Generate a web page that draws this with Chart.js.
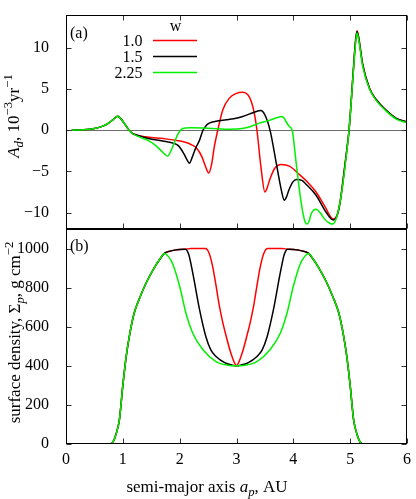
<!DOCTYPE html>
<html><head><meta charset="utf-8">
<script src="https://cdn.jsdelivr.net/npm/chart.js@4.4.1/dist/chart.umd.min.js"></script>
<style>
html,body{margin:0;padding:0;background:#fff;}
#wrap{position:relative;width:416px;height:499px;overflow:hidden;background:#fff;}
canvas{position:absolute;left:0;}
</style></head><body>
<div id="wrap">
<canvas id="ca" width="416" height="230" style="top:0px"></canvas>
<canvas id="cb" width="416" height="270" style="top:229px"></canvas>
</div>
<script>
const FONT = '"Liberation Serif", "Times New Roman", serif';

// ---- ticks / categories ----
const xTicks = [0, 1, 2, 3, 4, 5, 6];
const adTicks = [-10, -5, 0, 5, 10];
const sigmaTicks = [0, 200, 400, 600, 800, 1000];
const widthLabels = ['1.0', '1.5', '2.25'];
const seriesColors = ['#ff0000', '#000000', '#00f000'];

// ---- panel (a): A_d, 10^-3 yr^-1 ----
const adX_w10 = [0.1,0.3,0.5,0.65,0.75,0.83,0.91,0.97,1.04,1.1,1.16,1.25,1.4,1.6,1.75,1.95,2.1,2.22,2.3,2.39,2.46,2.51,2.56,2.61,2.67,2.76,2.875,2.99,3.11,3.2,3.26,3.31,3.36,3.43,3.5,3.54,3.58,3.67,3.79,3.93,4.11,4.25,4.4,4.55,4.7,4.77,4.82,4.87,4.93,4.98,5.05,5.09,5.12,5.15,5.22,5.34,5.46,5.63,5.81,6.0];
const adY_w10 = [0,0.06,0.22,0.5,0.86,1.3,1.7,1.35,0.7,0.1,-0.35,-0.6,-0.8,-0.95,-1.05,-1.25,-1.45,-1.8,-2.2,-3.2,-4.5,-5.2,-4.2,-2.0,0,2.5,3.9,4.45,4.6,4.3,3.5,2.2,0,-4.45,-7.5,-7.0,-6.1,-4.65,-4.16,-4.37,-5.4,-6.3,-7.5,-9.2,-10.8,-10.3,-8.8,-6.3,-3.0,0,6.7,10.5,12.1,11.3,8.0,5.1,3.7,2.45,1.45,1.0];

const adX_w15 = [0.1,0.3,0.5,0.65,0.75,0.83,0.91,0.97,1.04,1.1,1.16,1.25,1.45,1.7,1.9,1.98,2.07,2.13,2.17,2.22,2.28,2.35,2.41,2.47,2.52,2.64,2.82,2.95,3.11,3.3,3.43,3.49,3.55,3.6,3.7,3.79,3.84,3.88,3.92,3.99,4.06,4.15,4.23,4.4,4.58,4.7,4.77,4.82,4.87,4.93,4.98,5.05,5.09,5.12,5.15,5.22,5.34,5.46,5.63,5.81,6.0];
const adY_w15 = [0,0.06,0.22,0.5,0.86,1.3,1.7,1.35,0.7,0.1,-0.35,-0.6,-1.0,-1.3,-1.6,-1.9,-2.8,-3.6,-4.0,-3.3,-2.2,-1.2,0,0.6,0.86,1.1,1.27,1.4,1.67,2.15,2.4,2.0,1.0,-0.3,-4.0,-7.3,-8.5,-8.1,-7.3,-6.3,-6.0,-6.1,-6.6,-7.9,-10.0,-10.9,-10.4,-8.9,-6.4,-3.0,0,6.7,10.5,12.0,11.2,8.0,5.1,3.7,2.45,1.45,1.0];

const adX_w225 = [0.1,0.3,0.5,0.65,0.75,0.83,0.91,0.97,1.04,1.1,1.16,1.28,1.45,1.57,1.69,1.75,1.79,1.84,1.89,1.96,2.03,2.1,2.2,2.5,2.9,3.1,3.25,3.4,3.58,3.72,3.79,3.84,3.87,3.93,3.98,4.05,4.14,4.2,4.24,4.28,4.31,4.36,4.4,4.47,4.55,4.64,4.69,4.74,4.8,4.87,4.93,4.98,5.05,5.09,5.12,5.15,5.22,5.34,5.46,5.63,5.81,6.0];
const adY_w225 = [0,0.06,0.22,0.5,0.86,1.3,1.7,1.35,0.7,0.1,-0.37,-0.78,-1.27,-1.8,-2.6,-3.0,-3.14,-2.6,-1.8,-0.6,0.1,0.28,0.3,0.25,0.12,0.2,0.45,0.86,1.2,1.55,1.67,1.45,1.06,0.45,0,-4.0,-8.9,-11.0,-11.4,-11.0,-10.2,-9.7,-9.6,-10.0,-10.8,-11.3,-11.4,-11.0,-9.5,-6.6,-3.2,0,6.5,10.2,11.8,11.0,7.8,5.0,3.6,2.35,1.35,0.92];

// ---- panel (b): surface density, g cm^-2 ----
const sdX_w10 = [0,0.75,0.82,0.88,0.94,1.0,1.06,1.12,1.2,1.3,1.42,1.55,1.65,1.73,1.85,2.0,2.1,2.2,2.45,2.52,2.58,2.64,2.7,2.76,2.82,2.88,2.93,2.97,3.0,3.03,3.07,3.12,3.18,3.24,3.3,3.36,3.42,3.48,3.55,3.8,3.9,4.0,4.15,4.27,4.35,4.45,4.58,4.7,4.8,4.88,4.94,5.0,5.06,5.12,5.18,5.25,6];
const sdY_w10 = [0,0,8,50,125,300,450,560,670,750,830,900,945,975,988,995,997,1000,1000,975,909,810,704,620,550,485,440,412,400,412,440,485,550,620,704,810,909,975,1000,1000,997,995,988,975,945,900,830,750,670,560,450,300,125,50,8,0,0];

const sdX_w15 = [0,0.75,0.82,0.88,0.94,1.0,1.06,1.12,1.2,1.3,1.42,1.55,1.65,1.73,1.85,2.0,2.1,2.16,2.23,2.35,2.46,2.55,2.64,2.8,2.93,3.0,3.07,3.2,3.36,3.45,3.54,3.65,3.77,3.84,3.9,4.0,4.15,4.27,4.35,4.45,4.58,4.7,4.8,4.88,4.94,5.0,5.06,5.12,5.18,5.25,6];
const sdY_w15 = [0,0,8,50,125,300,450,560,670,750,830,900,945,975,988,995,997,970,875,687,550,480,448,415,403,400,403,415,448,480,550,687,875,970,997,995,988,975,945,900,830,750,670,560,450,300,125,50,8,0,0];

const sdX_w225 = [0,0.75,0.82,0.88,0.94,1.0,1.06,1.12,1.2,1.3,1.42,1.55,1.65,1.73,1.8,1.88,2.0,2.11,2.23,2.41,2.64,2.85,3.0,3.15,3.36,3.59,3.77,3.89,4.0,4.12,4.2,4.27,4.35,4.45,4.58,4.7,4.8,4.88,4.94,5.0,5.06,5.12,5.18,5.25,6];
const sdY_w225 = [0,0,8,50,125,300,450,560,670,750,830,900,945,975,960,920,807,670,567,482,422,403,400,403,422,482,567,670,807,920,960,975,945,900,830,750,670,560,450,300,125,50,8,0,0];

function pts(xs, ys){ return xs.map((x,i)=>({x:x, y:ys[i]})); }

function ds(xs, ys, idx){
  return { label: widthLabels[idx], data: pts(xs, ys), borderColor: seriesColors[idx],
    borderWidth: 1.5, pointRadius: 0, fill: false, cubicInterpolationMode: 'monotone' };
}

function drawRich(ctx, segs, x, y, size, align){
  const parts = segs.map(s=>{
    const fs = s.s ? size*0.75 : size;
    const f = (s.i ? 'italic ' : '') + fs + 'px ' + FONT;
    ctx.font = f;
    return {t:s.t, f:f, w:ctx.measureText(s.t).width, dy: s.s==='sub' ? size*0.25 : (s.s==='sup' ? -size*0.42 : 0)};
  });
  const total = parts.reduce((a,p)=>a+p.w, 0);
  let cx = align==='center' ? x-total/2 : (align==='right' ? x-total : x);
  ctx.textBaseline = 'alphabetic'; ctx.textAlign = 'left'; ctx.fillStyle = '#000';
  parts.forEach(p=>{ ctx.font = p.f; ctx.fillText(p.t, cx, y+p.dy); cx += p.w; });
}

function framePlugin(cfg){
  return {
    id: 'frame_' + cfg.name,
    beforeDatasetsDraw(chart){
      if (!cfg.zeroLine) return;
      const ctx = chart.ctx, a = chart.chartArea, ys = chart.scales.y;
      const py = Math.round(ys.getPixelForValue(0)) + 0.5;
      ctx.save(); ctx.strokeStyle = '#6e6e6e'; ctx.lineWidth = 1;
      ctx.beginPath(); ctx.moveTo(a.left, py); ctx.lineTo(a.right, py); ctx.stroke(); ctx.restore();
    },
    afterDraw(chart){
      const ctx = chart.ctx, a = chart.chartArea, xs = chart.scales.x, ys = chart.scales.y;
      const L = Math.round(a.left)+0.5, R = Math.round(a.right)-0.5, T = Math.round(a.top)+0.5, B = Math.round(a.bottom)-0.5;
      ctx.save();
      ctx.strokeStyle = '#333'; ctx.lineWidth = 1;
      ctx.beginPath();
      cfg.yTicks.forEach(v=>{
        const py = Math.round(ys.getPixelForValue(v)) + 0.5;
        ctx.moveTo(L, py); ctx.lineTo(L+5, py);
        ctx.moveTo(R, py); ctx.lineTo(R-5, py);
      });
      xTicks.forEach(v=>{
        const px = Math.round(xs.getPixelForValue(v)) + 0.5;
        ctx.moveTo(px, B); ctx.lineTo(px, B-5);
        if (cfg.topTicks){ ctx.moveTo(px, T); ctx.lineTo(px, T+5); }
      });
      ctx.stroke();
      ctx.strokeStyle = '#000';
      ctx.strokeRect(L, T, R-L, B-T);
      ctx.restore();

      ctx.save();
      ctx.font = '16px ' + FONT; ctx.fillStyle = '#000'; ctx.textBaseline = 'alphabetic'; ctx.textAlign = 'left';
      ctx.fillText(cfg.panel, a.left + 4, a.top + cfg.panelDy);
      if (cfg.legend){
        ctx.textAlign = 'center';
        ctx.fillText('w', 175.5, 31);
        ctx.textAlign = 'right';
        const ly = [40.5, 56.5, 72.5];
        widthLabels.forEach((lab, i)=>{
          ctx.fillStyle = '#000';
          ctx.fillText(lab, 142.5, ly[i] + 5.5);
          ctx.strokeStyle = seriesColors[i]; ctx.lineWidth = 1.5;
          ctx.beginPath(); ctx.moveTo(153, ly[i]); ctx.lineTo(197, ly[i]); ctx.stroke();
        });
      }
      ctx.restore();

      ctx.save();
      ctx.translate(cfg.yTitleX, (a.top + a.bottom)/2 + cfg.yTitleDy);
      ctx.rotate(-Math.PI/2);
      drawRich(ctx, cfg.yTitle, 0, 0, 17, 'center');
      ctx.restore();
      if (cfg.xTitle){
        ctx.save();
        drawRich(ctx, cfg.xTitle, 207, cfg.xTitleY, 17, 'center');
        ctx.restore();
      }
    }
  };
}

const tickFont = { family: FONT, size: 16 };
const minusFmt = v => (v < 0 ? '\u2212' + Math.abs(v) : String(v));
const plainFmt = v => String(v);
const noPadY = s => { s.width = 66; s.paddingTop = 0; s.paddingBottom = 0; };
const noPadX = h => s => { s.height = h; s.paddingLeft = 0; s.paddingRight = 0; };

new Chart(document.getElementById('ca'), {
  type: 'line',
  data: { datasets: [ ds(adX_w225, adY_w225, 2), ds(adX_w15, adY_w15, 1), ds(adX_w10, adY_w10, 0) ] },
  options: {
    responsive: false, animation: false, devicePixelRatio: 1,
    layout: { padding: { left: 0, top: 15, right: 9, bottom: 1 } },
    plugins: { legend: { display: false }, tooltip: { enabled: false } },
    scales: {
      x: { type: 'linear', min: 0, max: 6, display: false,
           afterBuildTicks: s => { s.ticks = xTicks.map(v => ({value: v})); },
           afterFit: noPadX(0) },
      y: { type: 'linear', min: -12, max: 14,
           afterBuildTicks: s => { s.ticks = adTicks.map(v => ({value: v})); },
           afterFit: noPadY,
           grid: { display: false }, border: { display: false },
           ticks: { font: tickFont, color: '#000', padding: 9, callback: minusFmt } }
    }
  },
  plugins: [ framePlugin({ name: 'a', zeroLine: true, topTicks: true, yTicks: adTicks, legend: true,
    panel: '(a)', panelDy: 23,
    yTitle: [{t:'A', i:1}, {t:'d', i:1, s:'sub'}, {t:', 10'}, {t:'\u22123', s:'sup'}, {t:'yr'}, {t:'\u22121', s:'sup'}],
    yTitleX: 19, yTitleDy: -6 }) ]
});

new Chart(document.getElementById('cb'), {
  type: 'line',
  data: { datasets: [ ds(sdX_w225, sdY_w225, 2), ds(sdX_w15, sdY_w15, 1), ds(sdX_w10, sdY_w10, 0) ] },
  options: {
    responsive: false, animation: false, devicePixelRatio: 1,
    layout: { padding: { left: 0, top: 0, right: 9, bottom: 0 } },
    plugins: { legend: { display: false }, tooltip: { enabled: false } },
    scales: {
      x: { type: 'linear', min: 0, max: 6,
           afterBuildTicks: s => { s.ticks = xTicks.map(v => ({value: v})); },
           afterFit: noPadX(55),
           grid: { display: false }, border: { display: false },
           ticks: { font: tickFont, color: '#000', padding: -2, maxRotation: 0, callback: plainFmt } },
      y: { type: 'linear', min: 0, max: 1100,
           afterBuildTicks: s => { s.ticks = sigmaTicks.map(v => ({value: v})); },
           afterFit: noPadY,
           grid: { display: false }, border: { display: false },
           ticks: { font: tickFont, color: '#000', padding: 9, callback: plainFmt } }
    }
  },
  plugins: [ framePlugin({ name: 'b', zeroLine: false, topTicks: false, yTicks: sigmaTicks, legend: false,
    panel: '(b)', panelDy: 22,
    yTitle: [{t:'surface density, '}, {t:'\u03A3'}, {t:'p', i:1, s:'sub'}, {t:', g cm'}, {t:'\u22122', s:'sup'}],
    yTitleX: 20, yTitleDy: -4,
    xTitle: [{t:'semi-major axis '}, {t:'a', i:1}, {t:'p', i:1, s:'sub'}, {t:', AU'}],
    xTitleY: 263 }) ]
});
</script>
</body></html>
